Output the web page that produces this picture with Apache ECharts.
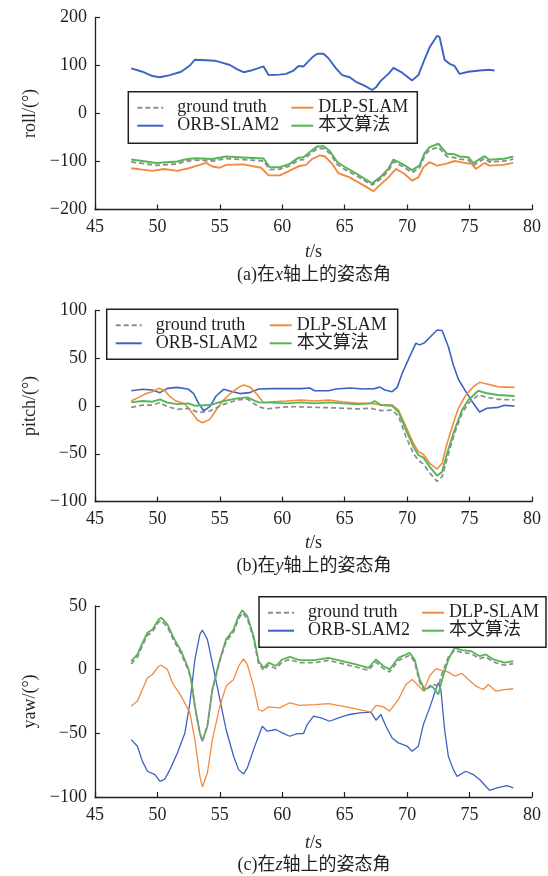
<!DOCTYPE html>
<html><head><meta charset="utf-8">
<script src="https://cdn.jsdelivr.net/npm/echarts@6/dist/echarts.min.js"></script>
<style>html,body{margin:0;padding:0;background:#fff}#c{width:548px;height:876px}</style>
</head><body><div id="c"></div>
<script>
const seriesNames = ['ground truth', 'ORB-SLAM2', 'DLP-SLAM', '本文算法'];
const xTickLabels = [45, 50, 55, 60, 65, 70, 75, 80];
const yAxisNames = ['roll/(°)', 'pitch/(°)', 'yaw/(°)'];
const captions = ['(a)在{i|x}轴上的姿态角', '(b)在{i|y}轴上的姿态角', '(c)在{i|z}轴上的姿态角'];
const yRanges = [[-200, 200, 100], [-100, 100, 50], [-100, 50, 50]];

// ---- roll (t, value) ----
const rollGroundTruth = [[47.9,-101],[48.8,-104],[49.9,-108],[51.6,-105],[52.2,-100],[53.0,-97],[54.4,-99],[55.5,-94],[56.9,-96],[58.5,-99],[59.0,-117],[59.8,-116],[60.6,-109],[61.3,-97],[61.7,-96],[62.3,-83],[62.8,-73],[63.3,-73],[63.8,-83],[64.4,-106],[65.1,-118],[65.9,-129],[66.6,-140],[67.2,-149],[67.9,-136],[68.5,-120],[68.9,-100],[69.6,-110],[70.4,-123],[71.0,-113],[71.4,-88],[71.8,-76],[72.5,-70],[73.2,-90],[73.8,-92],[74.2,-95],[74.9,-97],[75.3,-108],[76.2,-94],[76.6,-101],[77.7,-99],[78.5,-95]];
const rollORB = [[47.9,94],[48.8,87],[49.6,78],[50.2,75.5],[51.0,80],[51.9,87],[52.6,100],[53.0,112],[53.9,111],[54.6,110],[55.3,105],[55.8,101],[56.4,92],[56.9,86],[57.5,89.5],[58.5,98],[58.9,80],[59.8,81],[60.3,82.5],[60.9,89.5],[61.3,99],[61.7,98],[62.4,117],[62.8,124.5],[63.3,124.5],[63.7,115],[64.3,94],[64.8,80],[65.4,75.5],[65.9,66],[66.5,59],[67.2,49],[67.5,54.5],[67.9,68.5],[68.5,82.5],[68.9,95],[69.6,85],[70.4,69],[70.9,80],[71.4,113],[71.8,138],[72.4,162],[72.6,159],[73.0,112],[73.4,103.5],[73.8,99],[74.2,82.5],[74.9,87],[75.8,89.5],[76.6,91],[77.0,89.5]];
const rollDLP = [[47.9,-114],[48.8,-117],[49.6,-119.5],[50.5,-115.5],[51.6,-119.5],[52.5,-114],[53.4,-107],[53.9,-103],[54.4,-110.5],[55.0,-113],[55.5,-107],[56.9,-106],[58.3,-113],[58.9,-129],[59.8,-129],[60.6,-119],[61.3,-110],[61.9,-107],[62.4,-94.5],[63.0,-87.5],[63.4,-89],[64.0,-105],[64.5,-124.5],[65.4,-133],[66.2,-145],[66.8,-154],[67.3,-162],[67.9,-147],[68.5,-133],[69.1,-115.5],[69.8,-126],[70.4,-140],[70.9,-133],[71.3,-112],[71.8,-101.5],[72.4,-108.5],[73.1,-105],[73.8,-99],[74.6,-103],[75.2,-105],[75.5,-115.5],[76.2,-103],[76.6,-108.5],[77.7,-107],[78.5,-103]];
const rollOurs = [[47.9,-96],[48.8,-99],[49.9,-103],[51.6,-100],[52.2,-96],[53.0,-93],[54.4,-95],[55.5,-89.5],[56.9,-91.6],[58.5,-94],[59.0,-112],[59.8,-112],[60.6,-105],[61.3,-92],[61.7,-91],[62.3,-78],[62.8,-68.5],[63.3,-68],[63.8,-78],[64.4,-101],[65.1,-113],[65.9,-124.5],[66.6,-136],[67.2,-145.5],[67.9,-131.5],[68.5,-115],[68.9,-96],[69.6,-105],[70.4,-118],[71.0,-108],[71.4,-82.5],[71.8,-70],[72.5,-63],[73.2,-84],[73.8,-85],[74.2,-89.5],[74.9,-91],[75.3,-103.5],[76.2,-89],[76.6,-96.5],[77.7,-94.5],[78.5,-89.5]];

// ---- pitch ----
const pitchGroundTruth = [[47.9,-1.4],[48.8,1],[49.6,1],[50.2,3.5],[50.8,-0.7],[51.6,-3.5],[52.5,-2.4],[53.3,-7],[54.2,-5.2],[55.3,1.7],[56.4,6.3],[57.2,7.3],[58.1,-0.7],[58.7,-3.1],[59.8,-1.4],[60.9,-0.7],[62.6,-1.4],[64.3,-2],[66.0,-3.1],[67.1,-2.4],[67.9,-4.9],[68.8,-4.2],[69.3,-10.5],[69.9,-32],[70.5,-49.6],[70.9,-57],[71.3,-60.7],[71.8,-70],[72.4,-79],[72.8,-74],[73.2,-55],[73.8,-28.6],[74.4,-7.7],[74.9,2.8],[75.7,11.5],[76.4,9],[77.3,7],[78.6,6.3]];
const pitchORB = [[47.9,16],[48.8,17.5],[49.6,16.8],[50.2,14],[50.8,18.5],[51.6,19.5],[52.5,17.5],[52.9,13],[53.3,2.8],[53.7,-5],[54.2,-0.7],[54.7,10.5],[55.3,17.5],[55.8,15.7],[56.6,13],[57.4,14],[58.1,17.8],[59.2,18.2],[60.3,18.2],[61.5,18.2],[62.2,18.8],[62.6,16],[63.7,16],[64.3,17.8],[65.4,18.8],[66.5,17.8],[67.4,18.2],[67.8,20],[68.2,16.8],[68.8,15],[69.2,19.5],[69.6,34],[70.2,51.7],[70.7,65.6],[71.0,64],[71.4,66.3],[72.0,74.3],[72.4,79.6],[72.8,79],[73.3,62],[73.7,43],[74.1,28],[74.7,15],[75.3,2.8],[75.8,-6.3],[76.4,-2.4],[77.3,-1.4],[77.8,0.7],[78.6,0]];
const pitchDLP = [[47.9,5.2],[48.5,9],[49.1,13],[49.6,15],[50.1,18.5],[50.6,16],[51.0,9.8],[51.5,5.2],[52.2,2],[52.8,-7.7],[53.2,-14.7],[53.6,-17.5],[54.2,-14],[54.7,-4.2],[55.3,6.3],[55.8,12.6],[56.5,19.5],[56.9,22],[57.4,20],[57.9,13.3],[58.5,3.5],[59.2,4.5],[60.3,5.2],[61.5,6.3],[62.6,5.2],[63.7,6.3],[64.8,4.5],[66.0,2.8],[67.1,2.8],[67.9,1],[68.8,1],[69.3,-4.2],[69.9,-21.6],[70.5,-39],[70.9,-47.8],[71.3,-50.6],[71.8,-60],[72.4,-66],[72.8,-60],[73.2,-39],[73.7,-18],[74.1,-2.4],[74.7,11.5],[75.3,20],[75.8,24.8],[76.4,23],[77.3,20],[78.6,19.5]];
const pitchOurs = [[47.9,3.8],[48.8,5.2],[49.6,4.5],[50.2,7],[50.8,3.5],[51.6,2],[52.5,2.8],[53.0,0.3],[54.2,1],[55.3,5.2],[56.4,8],[57.2,9],[58.1,3.8],[59.2,3.5],[60.3,2.8],[61.5,3.8],[62.6,2.8],[63.7,3.8],[64.8,2.8],[66.0,2],[67.1,2.8],[67.4,5.2],[67.9,1],[68.8,0.3],[69.3,-6],[69.9,-25],[70.5,-42.6],[70.9,-51.3],[71.3,-54],[71.8,-63.5],[72.4,-73],[72.8,-68.8],[73.2,-49.6],[73.8,-25],[74.4,-4.2],[74.9,6.3],[75.7,16],[76.4,13.3],[77.3,11.5],[78.6,10.5]];

// ---- yaw ----
const yawGroundTruth = [[47.9,4.5],[48.4,10],[48.8,19],[49.2,27],[49.6,29.6],[50.1,37.5],[50.3,38.5],[50.8,33.6],[51.3,23],[51.9,12.6],[52.5,-1],[52.7,-8],[53.0,-29],[53.4,-50],[53.6,-56],[54.0,-44],[54.4,-16],[55.0,7],[55.5,22],[56.1,29.6],[56.5,40],[56.8,44.6],[57.2,40],[57.7,24.4],[58.1,4.7],[58.5,-0.5],[58.9,3.5],[59.5,0.9],[60.0,6],[60.6,8],[61.4,5.5],[62.6,5.5],[63.7,7.3],[64.8,4.7],[65.9,2.1],[66.9,-0.5],[67.5,6],[68.1,0.9],[68.6,-1.8],[69.3,7.3],[70.2,11.3],[70.6,6],[71.0,-9.7],[71.4,-16.6],[72.0,-11],[72.5,-13],[72.8,-3],[73.3,10],[73.8,15.2],[74.4,13.4],[75.1,12.6],[75.8,8.7],[76.3,10],[76.9,6],[77.8,3.5],[78.5,4.7]];
const yawORB = [[47.9,-54.9],[48.4,-60.1],[48.8,-72],[49.2,-79.8],[49.8,-82.4],[50.2,-87.7],[50.6,-85.9],[51.0,-78.5],[51.6,-65.4],[52.2,-49.7],[52.6,-26.1],[53.0,8],[53.4,27.7],[53.6,31.1],[54.0,23.8],[54.4,5.4],[55.0,-23.4],[55.5,-47],[56.1,-68],[56.5,-78.5],[56.9,-81.9],[57.2,-77.2],[57.7,-62.8],[58.1,-52.3],[58.4,-44.4],[58.8,-48.3],[59.5,-47],[60.0,-49.7],[60.6,-52.3],[61.2,-50.2],[61.7,-50.2],[62.0,-43.1],[62.5,-36.5],[63.1,-37.9],[63.8,-40.5],[64.5,-37.9],[65.4,-35.2],[66.2,-33.9],[67.1,-33.4],[67.5,-39.7],[67.9,-35.2],[68.3,-44.4],[68.8,-53.6],[69.3,-57.5],[70.0,-60.1],[70.4,-64.1],[70.9,-60.1],[71.3,-43.1],[71.8,-30],[72.3,-15.6],[72.5,-10.3],[72.7,-15.6],[73.0,-47],[73.3,-68],[73.7,-78.5],[74.0,-83.8],[74.7,-79.8],[75.3,-82.4],[75.8,-86.3],[76.3,-91.6],[76.6,-94.8],[77.2,-92.9],[78.0,-91.1],[78.5,-92.9]];
const yawDLP = [[47.9,-28.7],[48.4,-24.7],[48.8,-15.6],[49.2,-6.4],[49.6,-3.8],[50.1,2.7],[50.3,3.5],[50.8,0.2],[51.2,-10.3],[51.9,-20.8],[52.6,-33.9],[53.0,-54.9],[53.4,-83.8],[53.6,-92.1],[54.0,-81.1],[54.4,-54.9],[55.0,-28.7],[55.5,-12.9],[56.1,-7.7],[56.5,2.7],[56.9,8.5],[57.2,4.1],[57.7,-12.9],[58.1,-31.3],[58.4,-32.6],[58.9,-29.2],[59.8,-30],[60.6,-26],[61.4,-28.1],[62.6,-27.4],[63.7,-26.6],[64.8,-28.7],[65.9,-30.8],[67.1,-33.4],[67.5,-28.1],[68.1,-29.2],[68.6,-32.6],[69.3,-23.4],[69.9,-11.6],[70.4,-7.7],[70.9,-12.4],[71.3,-16.8],[71.8,-5],[72.3,0.8],[72.7,-0.3],[73.3,-1.9],[73.8,-5],[74.4,-3],[74.9,-7.7],[75.5,-12.9],[76.1,-15.6],[76.5,-11.6],[77.1,-16.8],[77.8,-15.6],[78.5,-15]];
const yawOurs = [[47.9,6.7],[48.4,12],[48.8,21],[49.2,29],[49.6,31.6],[50.1,39.5],[50.3,40.8],[50.8,35.6],[51.3,25],[51.9,14.6],[52.5,0.2],[52.7,-7.7],[53.0,-28.7],[53.4,-49.7],[53.6,-56.2],[54.0,-44.4],[54.4,-15.6],[55.0,8],[55.5,23.8],[56.1,31.6],[56.5,42],[56.8,46.6],[57.2,42],[57.7,26.4],[58.1,6.7],[58.5,1.5],[58.9,5.5],[59.5,2.9],[60.0,8],[60.6,10],[61.4,7.5],[62.6,7.5],[63.7,9.3],[64.8,6.7],[65.9,4.1],[66.9,1.5],[67.5,8],[68.1,2.9],[68.6,0.2],[69.3,9.3],[70.2,13.3],[70.6,8],[71.0,-7.7],[71.4,-15.6],[72.0,-13],[72.5,-19.5],[72.8,-7.7],[73.3,8],[73.8,17.2],[74.4,15.4],[75.1,14.6],[75.8,10.7],[76.3,12],[76.9,8],[77.8,5.5],[78.5,6.7]];

const panels = [
  [rollGroundTruth, rollORB, rollDLP, rollOurs],
  [pitchGroundTruth, pitchORB, pitchDLP, pitchOurs],
  [yawGroundTruth, yawORB, yawDLP, yawOurs]
];

const FONT = "'Liberation Serif','Noto Sans CJK SC',serif";
const INK = '#231f20';
const colors = ['#8c8c8c', '#3b63c2', '#f28b3d', '#55b655'];
const grids = [
  {left: 95, top: 17.5, width: 437, height: 192},
  {left: 95, top: 310.5, width: 437, height: 191},
  {left: 95, top: 606, width: 437, height: 191}
];
const nameGapsX = [34, 33, 37];
const widths = [[1.8, 1.9, 1.9, 2.0], [1.7, 1.6, 1.6, 1.9], [1.7, 1.3, 1.3, 1.8]];
const legendBoxes = [[128.3, 91.7, 289, 51.5], [106.7, 309.3, 291, 50], [259, 596.7, 287, 50.6]];
const captionY = [275, 566, 865];

const minus = v => String(v).replace('-', '\u2212');

const option = {
  animation: false,
  backgroundColor: '#fff',
  grid: grids.map(g => Object.assign({containLabel: false}, g)),
  xAxis: grids.map((g, i) => ({
    type: 'value', gridIndex: i, min: xTickLabels[0], max: xTickLabels[xTickLabels.length - 1], interval: 5,
    axisLine: {show: true, onZero: false, lineStyle: {color: INK, width: 1.3}},
    axisTick: {show: true, inside: true, length: 5, lineStyle: {color: INK, width: 1.2}},
    axisLabel: {fontFamily: FONT, fontSize: 18, color: INK, margin: 9},
    splitLine: {show: false},
    name: '{i|t}/s', nameLocation: 'middle', nameGap: nameGapsX[i],
    nameTextStyle: {fontFamily: FONT, fontSize: 18, color: INK,
      rich: {i: {fontFamily: FONT, fontSize: 18, fontStyle: 'italic', color: INK}}}
  })),
  yAxis: grids.map((g, i) => ({
    type: 'value', gridIndex: i, min: yRanges[i][0], max: yRanges[i][1], interval: yRanges[i][2],
    axisLine: {show: true, onZero: false, lineStyle: {color: INK, width: 1.3}},
    axisTick: {show: true, inside: true, length: 5, lineStyle: {color: INK, width: 1.2}},
    axisLabel: {fontFamily: FONT, fontSize: 18, color: INK, margin: 8, formatter: minus},
    splitLine: {show: false},
    name: yAxisNames[i], nameLocation: 'middle', nameGap: 55,
    nameTextStyle: {fontFamily: FONT, fontSize: 18, color: INK}
  })),
  legend: [],
  series: [],
  graphic: []
};

panels.forEach((sets, p) => {
  sets.forEach((data, k) => {
    option.series.push({
      type: 'line', name: seriesNames[k], xAxisIndex: p, yAxisIndex: p, data: data,
      showSymbol: false, symbol: 'none', smooth: false, z: k === 0 ? 5 : 3,
      lineStyle: {color: colors[k], width: widths[p][k], type: k === 0 ? [5, 3] : 'solid'},
      itemStyle: {color: colors[k]}
    });
  });
  const [bx, by, bw, bh] = legendBoxes[p];
  const ts = {fontFamily: FONT, fontSize: 18, lineHeight: 18, color: INK};
  const common = {orient: 'vertical', top: by + 7, itemHeight: 14, itemGap: 0, padding: 0, z: 6,
    selectedMode: false, itemStyle: {opacity: 0, borderWidth: 0}};
  option.legend.push(Object.assign({
    data: [seriesNames[0], seriesNames[1]], left: bx + 8, itemWidth: 26,
    textStyle: Object.assign({padding: [0, 0, 0, 9]}, ts)
  }, common));
  option.legend.push(Object.assign({
    data: [seriesNames[2], seriesNames[3]], left: bx + 162, itemWidth: 22,
    textStyle: Object.assign({padding: [0, 0, 0, 0]}, ts)
  }, common));
  option.graphic.push({
    type: 'rect', z: 5, shape: {x: bx, y: by, width: bw, height: bh},
    style: {fill: '#fff', stroke: INK, lineWidth: 1.5}
  });
  option.graphic.push({
    type: 'text', z: 5, x: 314, y: captionY[p],
    style: {text: captions[p], align: 'center', verticalAlign: 'middle', fill: INK,
      font: "18px 'Liberation Serif','Noto Sans CJK SC',serif",
      rich: {i: {fontStyle: 'italic', fontSize: 18, fontFamily: FONT, fill: INK}}}
  });
});

const chart = echarts.init(document.getElementById('c'), null, {renderer: 'canvas'});
chart.setOption(option);
</script>
</body></html>
